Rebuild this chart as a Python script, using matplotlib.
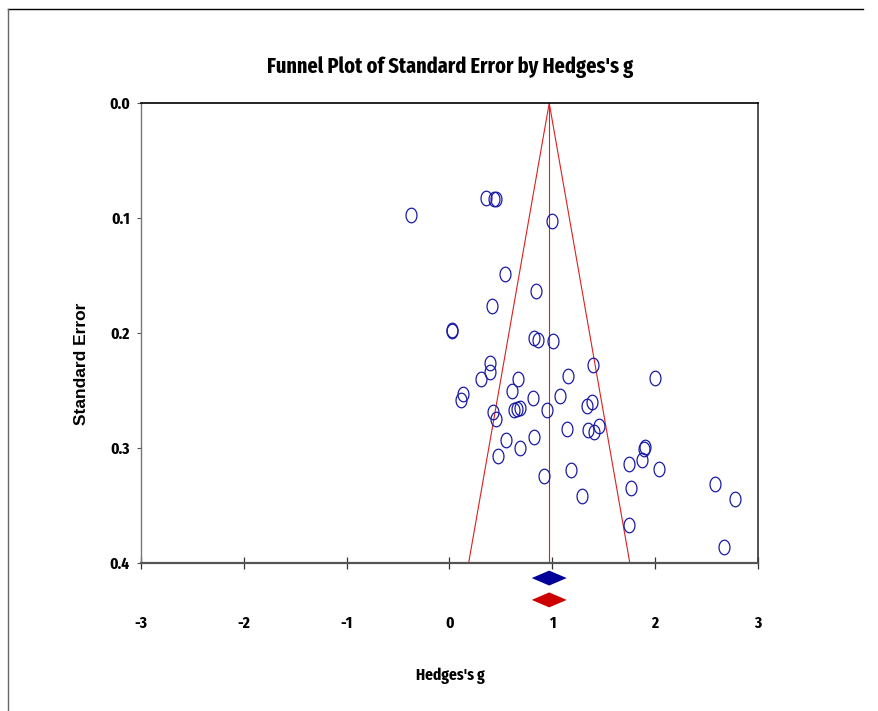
import matplotlib.pyplot as plt
from matplotlib import font_manager as fm
from matplotlib.lines import Line2D
import numpy as np

# study effects (Hedges's g) and standard errors
g = [-0.375, 0.355, 0.43, 0.45, 0.997, 0.54, 0.84, 0.41, 0.02, 0.025,
     0.82, 0.86, 1.01, 0.39, 0.39, 1.40, 0.31, 0.67, 1.15, 2.0,
     0.13, 0.11, 0.61, 1.07, 0.81, 1.39, 1.34, 0.42, 0.45, 0.63,
     0.66, 0.69, 0.95, 1.14, 1.35, 1.41, 1.45, 0.55, 0.82, 0.69,
     0.47, 1.90, 1.895, 1.87, 1.75, 2.04, 1.18, 0.92, 1.77, 1.29,
     2.58, 2.78, 1.75, 2.67]
se = [0.0975, 0.0828, 0.0837, 0.0837, 0.1027, 0.149, 0.163, 0.176, 0.197, 0.198,
      0.204, 0.206, 0.207, 0.226, 0.234, 0.228, 0.240, 0.240, 0.237, 0.239,
      0.253, 0.258, 0.250, 0.255, 0.256, 0.260, 0.263, 0.269, 0.275, 0.267,
      0.266, 0.265, 0.267, 0.283, 0.284, 0.286, 0.281, 0.293, 0.290, 0.300,
      0.307, 0.299, 0.301, 0.310, 0.314, 0.318, 0.319, 0.324, 0.335, 0.342,
      0.331, 0.344, 0.367, 0.386]

mean_obs = 0.97      # blue diamond / funnel centre
mean_adj = 0.97      # red diamond
ci_half = 0.17
se_max = 0.4

x_ticks = [-3, -2, -1, 0, 1, 2, 3]
y_ticks = [0.0, 0.1, 0.2, 0.3, 0.4]
y_tick_labels = ['0.0', '0.1', '0.2', '0.3', '0.4']

plt.rcParams['axes.unicode_minus'] = False


def pick_bold(prefs):
    have = set(f.name for f in fm.fontManager.ttflist
               if isinstance(f.weight, int) and f.weight >= 700)
    for p in prefs:
        if p in have:
            return p
    return 'DejaVu Sans'


narrow = pick_bold(['Sofia Sans Extra Condensed', 'Fira Sans Extra Condensed',
                    'Saira Extra Condensed', 'Roboto Condensed', 'Barlow Condensed',
                    'Liberation Sans'])

fig = plt.figure(figsize=(8.79, 7.11), dpi=100)
ax = fig.add_axes([0.1604, 0.208, 0.7019, 0.647])
renderer = fig.canvas.get_renderer()


def fit_size(txt, width_px):
    t = fig.text(0, 0, txt, fontsize=20, fontweight='bold', family=narrow)
    w = t.get_window_extent(renderer).width
    t.remove()
    return 20 * width_px / w


# funnel
ax.plot([mean_obs - 1.96 * se_max, mean_obs, mean_obs + 1.96 * se_max], [se_max, 0, se_max],
        color='#dd2020', lw=0.8, zorder=2)
ax.plot([mean_obs, mean_obs], [0, se_max], color='#dd2020', lw=0.8, zorder=2)

# ellipse marker (taller than wide)
t = np.linspace(0, 2 * np.pi, 40)
ell = np.column_stack([0.75 * np.cos(t), np.sin(t)])
ax.plot(g, se, linestyle='none', marker=ell, markersize=10.5, markerfacecolor='none',
        markeredgecolor='#1a1aa8', markeredgewidth=0.9, zorder=3)

# summary diamonds below the axis
for m, yy, col in [(mean_obs, 0.413, '#000099'), (mean_adj, 0.432, '#cc0000')]:
    ax.fill([m - ci_half, m, m + ci_half, m], [yy, yy - 0.0065, yy, yy + 0.0065],
            color=col, clip_on=False, zorder=4, lw=0)

ax.set_xlim(-3, 3)
ax.set_ylim(0.4, 0.0)
ax.set_xticks(x_ticks)
ax.set_xticklabels([str(v) for v in x_ticks])
ax.set_yticks(y_ticks)
ax.set_yticklabels(y_tick_labels)
ax.tick_params(axis='x', direction='inout', length=9, width=0.9, pad=33, color='#333333')
ax.tick_params(axis='y', direction='out', length=3, width=0.8, pad=5, color='#555555')
for lab in ax.get_xticklabels() + ax.get_yticklabels():
    lab.set_fontfamily(narrow)
    lab.set_fontweight('bold')
    lab.set_fontsize(12)

ax.spines['bottom'].set_linewidth(1.6)
ax.spines['bottom'].set_color('#555555')
ax.spines['left'].set_linewidth(1.0)
ax.spines['left'].set_color('#777777')
ax.spines['top'].set_linewidth(1.2)
ax.spines['right'].set_linewidth(1.2)
ax.spines['right'].set_color('#333333')

title = "Funnel Plot of Standard Error by Hedges's g"
fig.text(0.5125, 0.897, title, ha='center', va='baseline',
         fontsize=fit_size(title, 365), fontweight='bold', family=narrow)
fig.text(0.512, 0.049, "Hedges's g", ha='center', va='center',
         fontsize=12, fontweight='bold', family=narrow)
fig.text(0.093, 0.489, 'Standard Error', ha='center', va='center', rotation=90,
         fontsize=12.5, fontweight='bold', family=['Liberation Sans', 'DejaVu Sans'])

# outer frame lines (top and left only)
fig.add_artist(Line2D([0.009, 0.982], [0.987, 0.987], color='black', lw=1.0))
fig.add_artist(Line2D([0.009, 0.009], [0.0, 0.987], color='#666666', lw=1.0))

fig.savefig('out.png', dpi=100)
